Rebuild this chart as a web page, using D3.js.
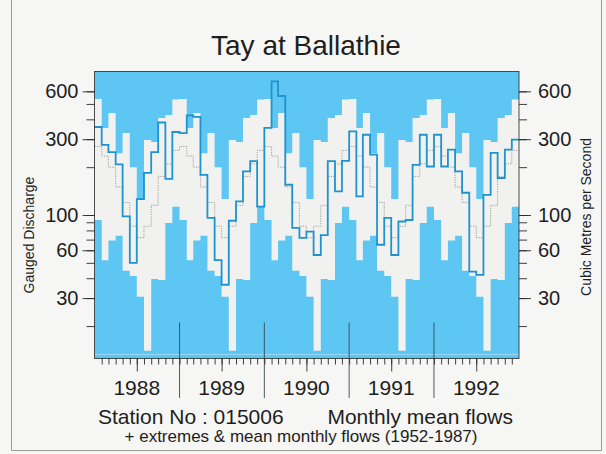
<!DOCTYPE html>
<html>
<head>
<meta charset="utf-8">
<script src="https://cdn.jsdelivr.net/npm/d3@7"></script>
<style>
  html, body { margin: 0; padding: 0; background: #f6f6f4; }
  svg { display: block; }
  text { font-family: "Liberation Sans", Arial, Helvetica, sans-serif; fill: #1e1e1e; }
</style>
</head>
<body>
<svg id="chart" width="606" height="454"></svg>
<script>
// Tay at Ballathie (015006): monthly mean flows 1988-1992, m3/s
const years = ["1988", "1989", "1990", "1991", "1992"];

// Period-of-record (1952-1987) statistics per calendar month, Jan..Dec
const monthlyMax  = [537, 353, 438, 245, 328, 200, 126, 296, 288, 408, 426, 533];
const monthlyMin  = [93, 52, 69, 74, 44.6, 41.3, 30.6, 14, 39.6, 39, 89, 112.7];
const monthlyMean = [270, 235, 200, 150, 120, 85, 72, 85, 115, 175, 210, 255];

// Monthly mean flows, Jan 1988 .. Dec 1992
const flows1988 = [358, 276, 249, 208, 98, 50, 126, 184, 249, 382, 169, 333];
const flows1989 = [328, 424, 415, 179, 96, 52, 36.4, 92, 122, 188, 218, 113];
const flows1990 = [353, 694, 561, 155, 83, 71.7, 78.7, 56, 74.8, 218, 141, 219];
const flows1991 = [336, 131, 320, 240, 65, 96, 56, 91, 93, 207, 320, 202];
const flows1992 = [320, 202, 258, 188, 138, 44, 42, 134, 246, 171, 258, 298];

const majorTicks = [30, 60, 100, 300, 600];
const minorTicks = [20, 30, 40, 50, 60, 70, 80, 90, 100, 200, 300, 400, 500, 600];

const flows = [].concat(flows1988, flows1989, flows1990, flows1991, flows1992);

const svg = d3.select("#chart");
const W = 606, H = 454;
const plot = { left: 94.5, right: 519, top: 71.5, bottom: 358.5 };

const start = new Date(1988, 0, 1), end = new Date(1993, 0, 1);
const months = d3.timeMonths(start, end);           // 60 month starts
const edges = months.concat([end]);                  // step edges

const x = d3.scaleTime().domain([start, end]).range([plot.left, plot.right]);
const y = d3.scaleLog().domain([12.5, 800]).range([plot.bottom, plot.top]);

const blue = "#5dc6f3";
const band = "#f1f1ef";
const ink = "#2a2a2a";

// page frame
svg.append("rect").attr("width", W).attr("height", H).attr("fill", "#f6f6f4");
svg.append("path")
  .attr("d", "M11.5,0V450.5H601.5V0")
  .attr("fill", "none").attr("stroke", "#9a9a9a").attr("stroke-width", 1);

// plot background (values outside the recorded range)
svg.append("rect")
  .attr("x", plot.left).attr("y", plot.top)
  .attr("width", plot.right - plot.left).attr("height", plot.bottom - plot.top)
  .attr("fill", blue);

// band between monthly minimum and maximum
const envelope = edges.map((d, i) => {
  const m = i < months.length ? i % 12 : 11;
  return { date: d, lo: monthlyMin[m], hi: monthlyMax[m] };
});
svg.append("path")
  .datum(envelope)
  .attr("fill", band)
  .attr("d", d3.area()
    .x(d => x(d.date))
    .y0(d => y(d.lo))
    .y1(d => y(d.hi))
    .curve(d3.curveStepAfter));

// light rule just above the bottom of the plot
svg.append("line")
  .attr("x1", plot.left).attr("x2", plot.right)
  .attr("y1", plot.bottom - 4).attr("y2", plot.bottom - 4)
  .attr("stroke", "#a9def6").attr("stroke-width", 0.8);

// year separators reaching up from the time axis
const yearStarts = years.slice(1).map(yr => new Date(+yr, 0, 1));
svg.append("g").selectAll("line")
  .data(yearStarts)
  .join("line")
  .attr("x1", d => x(d)).attr("x2", d => x(d))
  .attr("y1", plot.bottom - 36).attr("y2", 398)
  .attr("stroke", "#3b4a55").attr("stroke-width", 0.9);

// long-term mean monthly flows
const meanSeries = edges.map((d, i) => ({ date: d, v: monthlyMean[i < months.length ? i % 12 : 11] }));
svg.append("path")
  .datum(meanSeries)
  .attr("fill", "none")
  .attr("stroke", "#8a8a8a")
  .attr("stroke-width", 0.8)
  .attr("stroke-dasharray", "1.2,1.2")
  .attr("d", d3.line().x(d => x(d.date)).y(d => y(d.v)).curve(d3.curveStepAfter));

// monthly mean flows for the period
const flowSeries = edges.map((d, i) => ({ date: d, v: flows[Math.min(i, flows.length - 1)] }));
svg.append("path")
  .datum(flowSeries)
  .attr("fill", "none")
  .attr("stroke", "#1f93cf")
  .attr("stroke-width", 1.8)
  .attr("d", d3.line().x(d => x(d.date)).y(d => y(d.v)).curve(d3.curveStepAfter));

// plot frame
svg.append("rect")
  .attr("x", plot.left).attr("y", plot.top)
  .attr("width", plot.right - plot.left).attr("height", plot.bottom - plot.top)
  .attr("fill", "none").attr("stroke", "#3a3a3a").attr("stroke-width", 0.9);

function styleAxis(g) {
  g.select(".domain").remove();
  g.selectAll(".tick line").attr("stroke", ink).attr("stroke-width", 0.9);
  g.selectAll(".tick text")
    .attr("font-family", "\"Liberation Sans\", Arial, sans-serif")
    .attr("font-size", 20).attr("fill", "#1e1e1e");
}

// left axis
svg.append("g").attr("transform", `translate(${plot.left},0)`)
  .call(d3.axisLeft(y).tickValues(minorTicks).tickSize(8).tickFormat(""))
  .call(styleAxis);
svg.append("g").attr("transform", `translate(${plot.left},0)`)
  .call(d3.axisLeft(y).tickValues(majorTicks).tickSize(12).tickPadding(4).tickFormat(d3.format("d")))
  .call(styleAxis);

// right axis
svg.append("g").attr("transform", `translate(${plot.right},0)`)
  .call(d3.axisRight(y).tickValues(minorTicks).tickSize(8).tickFormat(""))
  .call(styleAxis);
svg.append("g").attr("transform", `translate(${plot.right},0)`)
  .call(d3.axisRight(y).tickValues(majorTicks).tickSize(12).tickPadding(7).tickFormat(d3.format("d")))
  .call(styleAxis);

// time axis: monthly ticks, longer mid-year ticks
svg.append("g").attr("transform", `translate(0,${plot.bottom})`)
  .call(d3.axisBottom(x).tickValues(months.slice(1)).tickSize(6).tickFormat(""))
  .call(styleAxis);
svg.append("g").attr("transform", `translate(0,${plot.bottom})`)
  .call(d3.axisBottom(x).tickValues(years.map(yr => new Date(+yr, 6, 1))).tickSize(13).tickFormat(""))
  .call(styleAxis);

// year labels centred in each year
svg.append("g").selectAll("text")
  .data(years)
  .join("text")
  .attr("x", d => x(new Date(+d, 6, 1)))
  .attr("y", 395)
  .attr("text-anchor", "middle")
  .attr("font-size", 21)
  .text(d => d);

// title and captions
svg.append("text")
  .attr("x", 306).attr("y", 55)
  .attr("text-anchor", "middle")
  .attr("font-size", 28)
  .text("Tay at Ballathie");

svg.append("text")
  .attr("x", 98).attr("y", 424)
  .attr("font-size", 21)
  .text("Station No : 015006");
svg.append("text")
  .attr("x", 513).attr("y", 424)
  .attr("text-anchor", "end")
  .attr("font-size", 21)
  .text("Monthly mean flows");
svg.append("text")
  .attr("x", 301).attr("y", 442)
  .attr("text-anchor", "middle")
  .attr("font-size", 17)
  .text("+ extremes & mean monthly flows (1952-1987)");

svg.append("text")
  .attr("transform", "translate(34,235) rotate(-90)")
  .attr("text-anchor", "middle")
  .attr("font-size", 14)
  .text("Gauged Discharge");
svg.append("text")
  .attr("transform", "translate(591,217) rotate(-90)")
  .attr("text-anchor", "middle")
  .attr("font-size", 14)
  .text("Cubic Metres per Second");
</script>
</body>
</html>
